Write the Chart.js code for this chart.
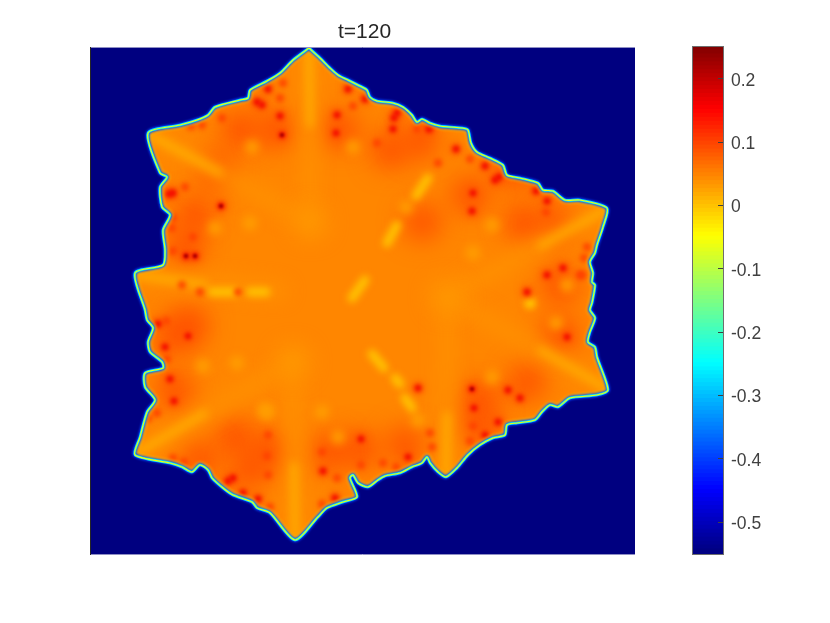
<!DOCTYPE html>
<html>
<head>
<meta charset="utf-8">
<style>
  html, body { margin: 0; background: #fff; }
  canvas { position: absolute; top: 0; }
</style>
<script src="https://cdn.jsdelivr.net/npm/chart.js@4"></script>
</head>
<body>
<canvas id="field" width="830" height="623" style="left:0"></canvas>
<canvas id="bar" width="150" height="623" style="left:680px"></canvas>
<script>
// values, x and y are in the units of the field axes
var outline = [[309,48],[320,58],[330,68],[338,75],[348,80],[362,87],[367,90],[370,97],[377,101],[393,103],[403,107],[412,115],[417,122],[422,119],[430,123],[440,126],[450,127],[462,128],[468,130],[471,143],[477,152],[490,158],[503,165],[507,175],[520,178],[538,183],[543,190],[553,191],[565,200],[580,200],[607,208],[603,227],[597,245],[595,253],[590,262],[593,273],[592,282],[595,285],[592,303],[590,310],[595,318],[590,332],[588,342],[595,347],[597,357],[608,390],[597,395],[570,398],[558,407],[550,405],[542,412],[535,420],[517,423],[507,425],[505,435],[493,438],[480,445],[468,455],[457,468],[446,477],[438,472],[430,463],[427,457],[422,463],[412,467],[400,473],[385,476],[378,480],[368,487],[358,483],[353,475],[350,478],[357,497],[343,502],[327,508],[318,517],[295,540],[270,513],[257,508],[252,502],[233,495],[223,488],[212,478],[208,470],[200,465],[192,472],[182,467],[170,463],[135,455],[140,437],[147,412],[155,400],[145,387],[145,373],[163,368],[162,362],[150,352],[148,342],[153,328],[147,320],[145,310],[135,273],[163,265],[165,250],[163,230],[170,215],[162,207],[160,187],[167,177],[160,173],[148,133],[180,125],[197,120],[208,115],[215,107],[240,100],[248,98],[250,90],[267,81],[280,73],[293,60]];

var rays = [
  [[309,52],[310,205]],
  [[150,135],[295,214]],
  [[137,275],[280,291]],
  [[137,453],[278,371]],
  [[295,537],[293,378]],
  [[605,210],[462,289]],
  [[606,388],[462,306]],
  [[446,475],[447,312]]
];
var tipRays = [
  [[309,50],[310,125]],
  [[150,135],[220,173]],
  [[137,275],[205,285]],
  [[137,453],[205,413]],
  [[295,538],[294,465]],
  [[605,210],[540,246]],
  [[606,388],[540,350]],
  [[446,476],[447,415]]
];
var centres = [[310,222],[447,297],[293,362]];
var broadPatches = [[240,130],[195,215],[215,170],[390,150],[422,222],[523,223],[527,382],[560,285],[235,437],[175,390],[330,452],[360,450],[480,400],[515,170],[405,445],[190,325],[200,460],[275,130],[340,130],[185,245],[175,335],[268,450],[470,195],[555,225],[560,335],[480,425],[420,140],[250,470]];
var yellowBands = [
  [[428,178],[416,196]],
  [[397,225],[387,243]],
  [[365,280],[352,298]],
  [[372,354],[384,368]],
  [[395,378],[400,384]],
  [[405,398],[412,408]],
  [[212,292],[236,292]],
  [[250,292],[266,292]]
];
var paleSpots = [[252,147],[353,147],[215,228],[250,223],[492,225],[473,253],[203,366],[237,363],[265,410],[338,437],[267,412],[322,412],[492,377],[556,323],[567,285],[406,207],[418,420]];
var yellowSpots = [[530,303]];
var warmSpots = [[185,187],[280,98],[283,83],[191,126],[202,125],[222,118],[353,106],[417,129],[429,129],[470,159],[438,163],[377,143],[193,237],[182,285],[200,292],[238,292],[166,321],[167,359],[157,413],[148,418],[173,458],[184,462],[268,435],[267,456],[268,475],[270,507],[337,478],[322,452],[322,504],[361,465],[473,426],[470,441],[383,463],[584,258],[587,247],[582,275],[580,275],[430,433],[432,447],[546,212],[396,467],[173,218],[172,228],[173,251]];
var hotSpots = [[169,194],[173,193],[257,102],[262,105],[268,89],[280,116],[337,115],[336,133],[348,89],[365,99],[397,113],[394,118],[393,129],[429,129],[456,149],[485,166],[499,177],[495,180],[473,193],[472,211],[536,191],[547,201],[547,275],[563,268],[527,292],[567,337],[508,390],[520,398],[418,388],[474,408],[498,422],[485,435],[408,457],[323,471],[335,498],[361,439],[233,478],[228,481],[243,493],[258,499],[174,401],[170,379],[165,347],[188,336],[158,324],[186,256],[195,256],[221,206],[282,135],[472,389]];
var darkSpots = [[221,206],[282,135],[472,389],[186,256],[195,256]];

var fieldMin = -0.55, fieldMax = 0.25;
var tickValues = [-0.5, -0.4, -0.3, -0.2, -0.1, 0, 0.1, 0.2];
var barSteps = 128;

// matlab style jet colormap
function jet(v) {
  var f = (v - fieldMin) / (fieldMax - fieldMin);
  function c(k) { return Math.round(255 * Math.max(0, Math.min(1, 1.5 - Math.abs(4 * f - k)))); }
  return 'rgb(' + c(3) + ',' + c(2) + ',' + c(1) + ')';
}
function xy(list) { return list.map(function (p) { return { x: p[0], y: p[1] }; }); }

function spots(list, value, radius, blur) {
  return { data: xy(list), showLine: false, pointStyle: 'circle', pointRadius: radius, pointBorderWidth: 0,
    pointBackgroundColor: jet(value), blur: blur, clipShape: true };
}
function stroke(list, value, width, blur, clipShape, tension) {
  return { data: xy(list), showLine: true, pointRadius: 0, borderColor: jet(value), borderWidth: width, tension: tension || 0,
    borderJoinStyle: 'round', borderCapStyle: 'round', fill: false, blur: blur, clipShape: clipShape };
}
var rimPath = outline.concat([outline[0]]);

var layers = [];
layers.push({ data: xy(rimPath), showLine: true, pointRadius: 0, borderWidth: 0, tension: 0.25, fill: 'shape', backgroundColor: jet(0.045) });
layers.push(spots(broadPatches, 0.09, 18, 13));
rays.forEach(function (r) { layers.push(stroke(r, 0.036, 14, 9, true)); });
tipRays.forEach(function (r) { layers.push(stroke(r, 0.008, 6, 5, true)); });
layers.push(spots(centres, 0.028, 15, 11));
layers.push(spots(paleSpots, 0.025, 7, 4));
yellowBands.forEach(function (r) { layers.push(stroke(r, -0.002, 9, 3.5, true)); });
layers.push(spots(yellowSpots, -0.005, 6, 3));
layers.push(spots(warmSpots, 0.1, 4, 2.5));
layers.push(spots(hotSpots, 0.085, 6, 3.5));
layers.push(spots(hotSpots, 0.16, 3.2, 2.2));
layers.push(spots(darkSpots, 0.22, 2, 1.2));
layers.push(stroke(rimPath, 0.0, 6, 1.6, true, 0.25));
layers.push(stroke(rimPath, -0.4, 4, 0.8, false, 0.25));
layers.push(stroke(rimPath, -0.27, 2.6, 0.7, false, 0.25));
layers.push(stroke(rimPath, -0.06, 1.1, 0.6, false, 0.25));
layers.forEach(function (d, i) { d.order = layers.length - i; });

function shapePath(chart) {
  var ctx = chart.ctx, sx = chart.scales.x, sy = chart.scales.y;
  ctx.beginPath();
  outline.forEach(function (p, i) {
    var px = sx.getPixelForValue(p[0]), py = sy.getPixelForValue(p[1]);
    if (i) ctx.lineTo(px, py); else ctx.moveTo(px, py);
  });
  ctx.closePath();
}

var fieldPlugin = {
  id: 'fieldPlugin',
  // title sits a little right of the axes centre in the reference
  afterLayout: function (chart) { chart.titleBlock.left += 4; },
  beforeDatasetsDraw: function (chart) {
    var a = chart.chartArea, ctx = chart.ctx;
    ctx.fillStyle = jet(fieldMin);
    ctx.fillRect(a.left, a.top, a.right - a.left, a.bottom - a.top);
  },
  beforeDatasetDraw: function (chart, args) {
    var d = chart.data.datasets[args.index], ctx = chart.ctx;
    ctx.save();
    if (d.clipShape) { shapePath(chart); ctx.clip(); }
    if (d.blur) ctx.filter = 'blur(' + d.blur + 'px)';
  },
  afterDatasetDraw: function (chart) { chart.ctx.restore(); },
  afterDatasetsDraw: function (chart) {
    var a = chart.chartArea, ctx = chart.ctx;
    ctx.save();
    ctx.strokeStyle = '#8f8fc4';
    ctx.lineWidth = 1;
    ctx.beginPath();
    ctx.moveTo(a.left, a.top + 0.5); ctx.lineTo(a.right, a.top + 0.5);
    ctx.moveTo(a.left, a.bottom + 0.5); ctx.lineTo(a.right, a.bottom + 0.5);
    ctx.stroke();
    ctx.strokeStyle = '#262626';
    ctx.beginPath();
    ctx.moveTo(a.left + 0.5, a.top); ctx.lineTo(a.left + 0.5, a.bottom + 1);
    ctx.stroke();
    ctx.restore();
  }
};

new Chart(document.getElementById('field').getContext('2d'), {
  type: 'scatter',
  data: { datasets: layers },
  plugins: [fieldPlugin],
  options: {
    responsive: false,
    animation: false,
    layout: { padding: { left: 90, right: 195, top: 20, bottom: 69 } },
    plugins: {
      legend: { display: false },
      tooltip: { enabled: false },
      title: { display: true, text: 't=120', color: '#262626', padding: { top: 0, bottom: 2 },
        font: { family: '"Liberation Sans"', size: 21, weight: 'normal', lineHeight: '25px' } }
    },
    scales: {
      x: { type: 'linear', min: 90, max: 635, display: false },
      y: { type: 'linear', min: 47, max: 554, reverse: true, display: false }
    }
  }
});

// colorbar, one floating bar for every step of the colormap
var barSets = [];
for (var i = 0; i < barSteps; i++) {
  var lo = fieldMin + (fieldMax - fieldMin) * i / barSteps;
  var hi = fieldMin + (fieldMax - fieldMin) * (i + 1.3) / barSteps;
  barSets.push({ data: [[lo, Math.min(hi, fieldMax)]], backgroundColor: jet(lo + (fieldMax - fieldMin) / barSteps / 2),
    barPercentage: 1, categoryPercentage: 1 });
}

var barFrame = {
  id: 'barFrame',
  afterDatasetsDraw: function (chart) {
    var a = chart.chartArea, ctx = chart.ctx;
    ctx.save();
    ctx.strokeStyle = '#6e6e6e';
    ctx.lineWidth = 1;
    ctx.strokeRect(a.left - 0.5, a.top - 0.5, a.right - a.left + 1, a.bottom - a.top + 1);
    ctx.restore();
  }
};

new Chart(document.getElementById('bar').getContext('2d'), {
  type: 'bar',
  data: { labels: ['t=120'], datasets: barSets },
  plugins: [barFrame],
  options: {
    responsive: false,
    animation: false,
    layout: { padding: { left: 13, right: 0, top: 47, bottom: 69 } },
    plugins: { legend: { display: false }, tooltip: { enabled: false }, title: { display: false } },
    scales: {
      x: { stacked: true, display: false },
      y: {
        type: 'linear', position: 'right', min: fieldMin, max: fieldMax,
        afterBuildTicks: function (scale) { scale.ticks = tickValues.map(function (v) { return { value: v }; }); },
        afterFit: function (scale) { scale.width = 107; },
        border: { display: false },
        grid: { drawOnChartArea: false, tickLength: -5, tickColor: '#404040', z: 1 },
        ticks: { padding: 13, labelOffset: 2, color: '#404040', callback: function (v) { return String(v); },
          font: { family: '"Liberation Sans"', size: 17.5 } }
      }
    }
  }
});
</script>
</body>
</html>
